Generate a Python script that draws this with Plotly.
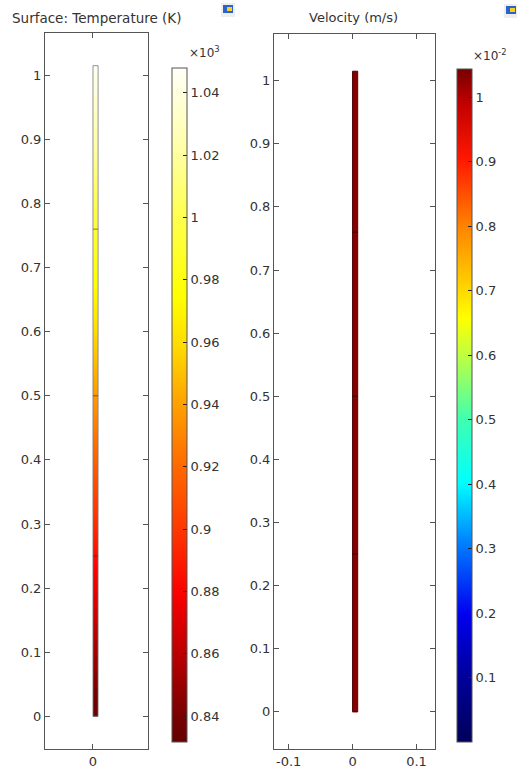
import plotly.graph_objects as go

W, H = 517, 773

# ---------------- data ----------------
# geometry of the rod (m)
rod_x_edges = [0.0, 0.004, 0.008]
rod_top = 1.015

# temperature along the rod (K), cells between these y edges
temp_y_edges = [0.0, 0.05, 0.1, 0.15, 0.2, 0.25, 0.3, 0.35, 0.4, 0.45, 0.5,
                0.55, 0.6, 0.65, 0.7, 0.75, 0.8, 0.85, 0.9, 0.95, 1.0, 1.015]
temp_values = [836, 847, 858, 869, 879, 890, 901, 911, 922, 933, 943,
               954, 965, 975, 986, 996, 1007, 1018, 1028, 1039, 1046]

# velocity along the rod (m/s)
vel_y_edges = [0.0, 0.25, 0.5, 0.76, 1.015]
vel_values = [0.01030, 0.01031, 0.01031, 0.01030]

# mesh boundary marks along the rod
mesh_marks = [0.25, 0.5, 0.76]

T_MIN, T_MAX = 831.7, 1048.0
V_MIN, V_MAX = 0.0, 0.010435

temp_ticks = [840, 860, 880, 900, 920, 940, 960, 980, 1000, 1020, 1040]
temp_ticktext = ["0.84", "0.86", "0.88", "0.9", "0.92", "0.94", "0.96",
                 "0.98", "1", "1.02", "1.04"]
vel_ticks = [0.001, 0.002, 0.003, 0.004, 0.005, 0.006, 0.007, 0.008, 0.009, 0.010]
vel_ticktext = ["0.1", "0.2", "0.3", "0.4", "0.5", "0.6", "0.7", "0.8", "0.9", "1"]

y_ticks = [0, 0.1, 0.2, 0.3, 0.4, 0.5, 0.6, 0.7, 0.8, 0.9, 1]
x2_ticks = [-0.1, 0, 0.1]
x2_ticktext = ["-0.1", "0", "0.1"]

heat_scale = [
    [0.00, "#640000"], [0.04, "#7a0000"], [0.13, "#bb0000"], [0.22, "#fb0000"],
    [0.32, "#ff3a00"], [0.41, "#ff6a00"], [0.50, "#ffa000"], [0.59, "#ffdc00"],
    [0.66, "#ffff00"], [0.78, "#ffff50"], [0.88, "#ffffa8"], [1.00, "#fffff8"],
]
rainbow_scale = [
    [0.00, "#00005a"], [0.10, "#00009c"], [0.19, "#0000f0"], [0.29, "#0078ff"],
    [0.385, "#00ffff"], [0.48, "#40ffb0"], [0.575, "#c0ff40"], [0.63, "#ffff00"],
    [0.68, "#ffd000"], [0.77, "#ff8000"], [0.865, "#ff1800"], [0.95, "#c00000"],
    [1.00, "#760000"],
]

FONT = "DejaVu Sans"
TXT = "#333333"
LINE = "#555555"


def fx(p):
    return p / W


def fy(p):
    return 1 - p / H


fig = go.Figure()

# ---- temperature rod ----
fig.add_trace(go.Heatmap(
    x=rod_x_edges, y=temp_y_edges, z=[[t, t] for t in temp_values],
    xaxis="x", yaxis="y", colorscale=heat_scale, zmin=T_MIN, zmax=T_MAX,
    zsmooth="best", hoverinfo="skip",
    colorbar=dict(
        x=fx(172), xanchor="left", y=fy(405), yanchor="middle",
        len=674 / H, lenmode="fraction", thickness=15, thicknessmode="pixels",
        xpad=0, ypad=0, outlinewidth=1, outlinecolor=LINE,
        ticks="inside", ticklen=4, tickcolor="#222", tickwidth=1,
        tickvals=temp_ticks, ticktext=temp_ticktext,
        tickfont=dict(family=FONT, size=13, color=TXT),
    ),
))

# ---- velocity rod ----
fig.add_trace(go.Heatmap(
    x=rod_x_edges, y=vel_y_edges, z=[[v, v] for v in vel_values],
    xaxis="x2", yaxis="y2", colorscale=rainbow_scale, zmin=V_MIN, zmax=V_MAX,
    hoverinfo="skip",
    colorbar=dict(
        x=fx(457), xanchor="left", y=fy(405.5), yanchor="middle",
        len=673 / H, lenmode="fraction", thickness=15, thicknessmode="pixels",
        xpad=0, ypad=0, outlinewidth=1, outlinecolor=LINE,
        ticks="inside", ticklen=4, tickcolor="#222", tickwidth=1,
        tickvals=vel_ticks, ticktext=vel_ticktext,
        tickfont=dict(family=FONT, size=13, color=TXT),
    ),
))

# rod outlines
fig.add_shape(type="rect", xref="x", yref="y", x0=rod_x_edges[0], x1=rod_x_edges[-1],
              y0=0, y1=rod_top, line=dict(color="rgba(120,120,120,0.8)", width=1))
fig.add_shape(type="rect", xref="x2", yref="y2", x0=rod_x_edges[0], x1=rod_x_edges[-1],
              y0=0, y1=rod_top, line=dict(color="#4a0000", width=1))

# mesh boundary marks
for m in mesh_marks:
    fig.add_trace(go.Scatter(x=[rod_x_edges[0], rod_x_edges[-1]], y=[m, m], mode="lines",
                             line=dict(color="rgba(60,30,0,0.6)", width=1),
                             xaxis="x", yaxis="y", hoverinfo="skip", showlegend=False))
    fig.add_trace(go.Scatter(x=[rod_x_edges[0], rod_x_edges[-1]], y=[m, m], mode="lines",
                             line=dict(color="rgba(20,0,0,0.8)", width=1),
                             xaxis="x2", yaxis="y2", hoverinfo="skip", showlegend=False))

axis_common = dict(
    showline=True, linecolor=LINE, linewidth=1, mirror="ticks",
    ticks="inside", ticklen=5, tickcolor=LINE, tickwidth=1,
    showgrid=False, zeroline=False,
    tickfont=dict(family=FONT, size=13, color=TXT),
)

fig.update_layout(
    width=W, height=H,
    margin=dict(l=0, r=0, t=0, b=0),
    paper_bgcolor="white", plot_bgcolor="white",
    showlegend=False,
    xaxis=dict(domain=[fx(45), fx(148)], range=[-0.075, 0.086], tickvals=[0],
               anchor="y", **axis_common),
    yaxis=dict(domain=[fy(749), fy(33)], range=[-0.051, 1.066], tickvals=y_ticks,
               anchor="x", **axis_common),
    xaxis2=dict(domain=[fx(274), fx(435)], range=[-0.123, 0.129],
                tickvals=x2_ticks, ticktext=x2_ticktext, anchor="y2", **axis_common),
    yaxis2=dict(domain=[fy(749), fy(34)], range=[-0.059, 1.074], tickvals=y_ticks,
                anchor="x2", **axis_common),
)

annotations = [
    dict(text="Surface: Temperature (K)", x=fx(10), y=fy(18), xanchor="left",
         yanchor="middle", font=dict(family=FONT, size=13.5, color=TXT)),
    dict(text="Velocity (m/s)", x=fx(353), y=fy(18), xanchor="center",
         yanchor="middle", font=dict(family=FONT, size=13, color=TXT)),
    dict(text="×10<sup>3</sup>", x=fx(187), y=fy(52), xanchor="left",
         yanchor="middle", font=dict(family=FONT, size=12, color=TXT)),
    dict(text="×10<sup>-2</sup>", x=fx(471), y=fy(55), xanchor="left",
         yanchor="middle", font=dict(family=FONT, size=12, color=TXT)),
]
for a in annotations:
    a.update(xref="paper", yref="paper", showarrow=False)
fig.update_layout(annotations=annotations)

# small application icons next to the titles
for x0, y0 in [(223, 5), (506, 6)]:
    fig.add_shape(type="rect", xref="paper", yref="paper",
                  x0=fx(x0 - 2), x1=fx(x0 + 12), y0=fy(y0 + 12), y1=fy(y0 - 2),
                  fillcolor="#eeeeee", line=dict(width=0), layer="below")
    fig.add_shape(type="rect", xref="paper", yref="paper",
                  x0=fx(x0), x1=fx(x0 + 10), y0=fy(y0 + 8), y1=fy(y0),
                  fillcolor="#2f62c8", line=dict(width=0))
    fig.add_shape(type="rect", xref="paper", yref="paper",
                  x0=fx(x0 + 4), x1=fx(x0 + 9), y0=fy(y0 + 6), y1=fy(y0 + 2),
                  fillcolor="#f4d020", line=dict(width=0))

fig.write_html("out.html")
